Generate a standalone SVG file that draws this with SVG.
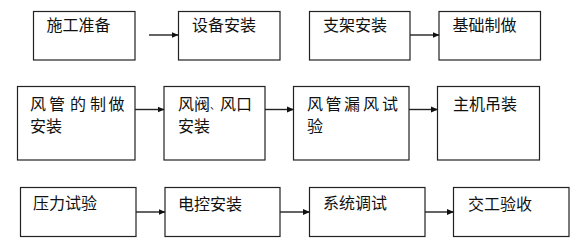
<svg xmlns="http://www.w3.org/2000/svg" width="581" height="244" viewBox="0 0 581 244">
<defs>
<marker id="ah" markerWidth="7" markerHeight="7" refX="6.5" refY="3.5" orient="auto" markerUnits="userSpaceOnUse">
<path d="M0,0.5 L7,3.5 L0,6.5 Z" fill="#111"/>
</marker>
</defs>
<style>
.box{fill:#fff;stroke:#222;stroke-width:1.2}
.t{font-family:"Noto Sans CJK SC","Noto Sans CJK JP",sans-serif;font-size:16px;fill:#111}
.c{stroke:#222;stroke-width:1.4;fill:none;marker-end:url(#ah)}
</style>
<rect width="581" height="244" fill="#fff"/>
<g id="n1"><rect class="box" x="33.5" y="11.5" width="101.5" height="48.5"/><text class="t" x="46.5" y="31">施工准备</text></g>
<g id="n2"><rect class="box" x="178.5" y="11.5" width="101.5" height="48.5"/><text class="t" x="192" y="31">设备安装</text></g>
<g id="n3"><rect class="box" x="309.5" y="11.5" width="100.5" height="48.5"/><text class="t" x="323" y="31">支架安装</text></g>
<g id="n4"><rect class="box" x="439" y="11.5" width="101.5" height="48.5"/><text class="t" x="452.5" y="31">基础制做</text></g>
<g id="n5"><rect class="box" x="17.5" y="86.5" width="117.5" height="73.5"/><text class="t" y="110"><tspan x="30">风</tspan><tspan x="49">管</tspan><tspan x="70">的</tspan><tspan x="90">制</tspan><tspan x="108.5">做</tspan></text><text class="t" x="30" y="132">安装</text></g>
<g id="n6"><rect class="box" x="164" y="86.5" width="101" height="73.5"/><text class="t" y="110"><tspan x="178">风</tspan><tspan x="194">阀</tspan><tspan x="210" font-size="10" dy="-1">、</tspan><tspan x="220" dy="1">风</tspan><tspan x="236">口</tspan></text><text class="t" x="178" y="132">安装</text></g>
<g id="n7"><rect class="box" x="293.5" y="86.5" width="115.5" height="73.5"/><text class="t" y="110"><tspan x="307">风</tspan><tspan x="325.5">管</tspan><tspan x="344">漏</tspan><tspan x="363">风</tspan><tspan x="382">试</tspan></text><text class="t" x="307" y="132">验</text></g>
<g id="n8"><rect class="box" x="437.5" y="86.5" width="102" height="73.5"/><text class="t" x="453" y="110">主机吊装</text></g>
<g id="n9"><rect class="box" x="20.5" y="187.5" width="115.5" height="49"/><text class="t" x="33" y="208.5">压力试验</text></g>
<g id="n10"><rect class="box" x="165" y="187.5" width="115" height="49"/><text class="t" x="178" y="210">电控安装</text></g>
<g id="n11"><rect class="box" x="309.5" y="187.5" width="115.5" height="49"/><text class="t" x="323" y="208.5">系统调试</text></g>
<g id="n12"><rect class="box" x="453.5" y="187.5" width="115.5" height="49"/><text class="t" x="468" y="210">交工验收</text></g>
<g id="connectors">
<line class="c" x1="149" y1="35" x2="178" y2="35"/>
<line class="c" x1="410" y1="35" x2="439" y2="35"/>
<line class="c" x1="135" y1="109.5" x2="164" y2="109.5"/>
<line class="c" x1="265" y1="109.5" x2="293.5" y2="109.5"/>
<line class="c" x1="409" y1="109.5" x2="437.5" y2="109.5"/>
<line class="c" x1="136" y1="212" x2="165" y2="212"/>
<line class="c" x1="280" y1="212" x2="309.5" y2="212"/>
<line class="c" x1="425" y1="212" x2="453.5" y2="212"/>
</g>
</svg>
